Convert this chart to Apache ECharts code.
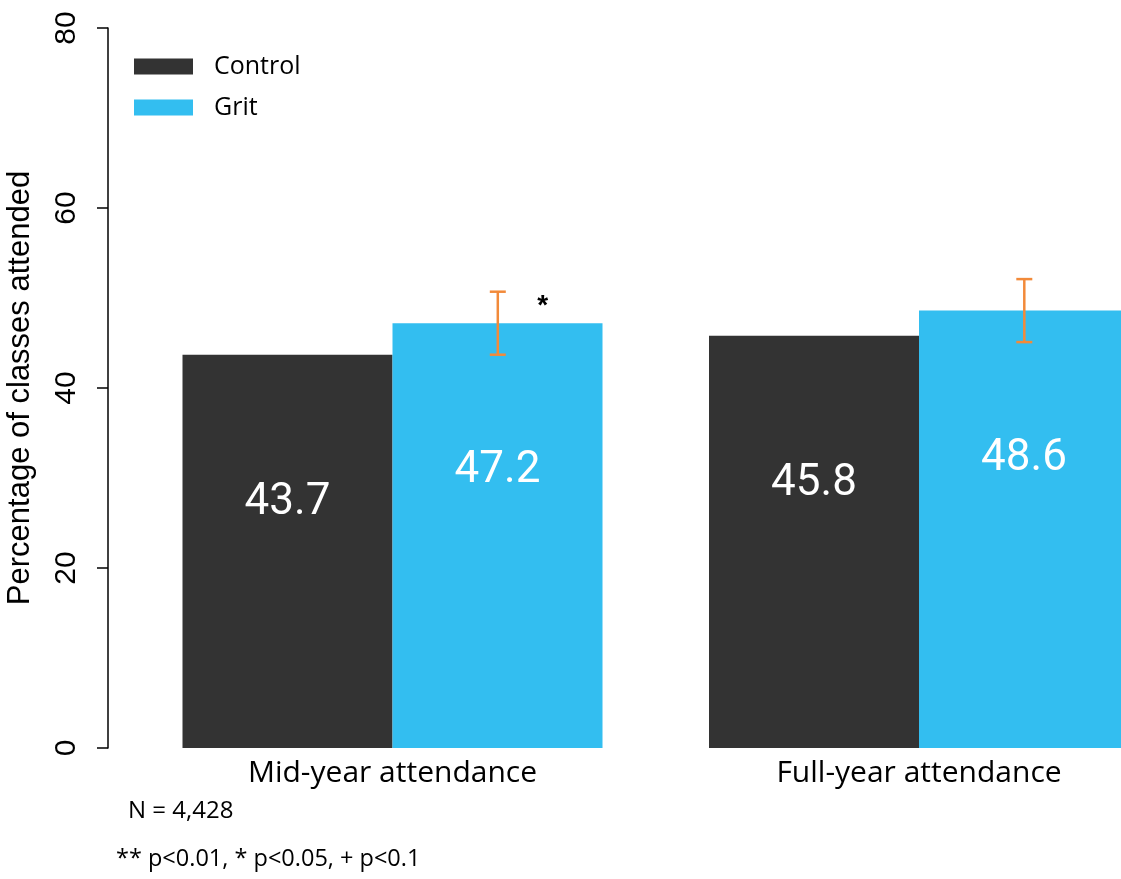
<!DOCTYPE html>
<html>
<head>
<meta charset="utf-8">
<script src="https://cdn.jsdelivr.net/npm/echarts@6/dist/echarts.min.js"></script>
<style>
  html, body { margin: 0; padding: 0; background: #ffffff; }
  #chart { width: 1121px; height: 879px; }
</style>
</head>
<body>
<div id="chart"></div>
<script>
// Attendance outcomes by condition
const categories = ['Mid-year attendance', 'Full-year attendance'];
const controlValues = [43.7, 45.8];
const gritValues = [47.2, 48.6];
// 95% interval bounds for the Grit condition
const gritLower = [43.7, 45.1];
const gritUpper = [50.7, 52.1];
const gritSignificance = ['*', ''];
const yTicks = [0, 20, 40, 60, 80];

const CONTROL_COLOR = '#333333';
const GRIT_COLOR = '#33BEF0';
const ERR_COLOR = '#F28A3A';
const SANS = '"Open Sans", Roboto, sans-serif';
const LABEL_SANS = 'Roboto, "Noto Sans", sans-serif';
const HELV = '"Liberation Sans", Arial, sans-serif';

const chart = echarts.init(document.getElementById('chart'), null, { renderer: 'canvas' });

const errorData = categories.map((c, i) => [i, gritLower[i], gritUpper[i], gritSignificance[i]]);

chart.setOption({
  animation: false,
  backgroundColor: '#ffffff',
  legend: {
    orient: 'vertical',
    left: 129,
    top: 49,
    itemWidth: 59,
    itemHeight: 16,
    itemGap: 16,
    icon: 'rect',
    data: ['Control', 'Grit'],
    textStyle: { fontFamily: SANS, fontSize: 25, color: '#000', lineHeight: 24, padding: [0, 0, 0, 16] }
  },
  // the second group runs past the right edge and is cut off there
  grid: { left: 129.25, width: 1053, top: 28, bottom: 131, containLabel: false, outerBoundsMode: 'none' },
  xAxis: {
    type: 'category',
    data: categories,
    axisLine: { show: false },
    axisTick: { show: false },
    axisLabel: { fontFamily: SANS, fontSize: 30, color: '#000', margin: 10 }
  },
  yAxis: {
    type: 'value',
    min: yTicks[0],
    max: yTicks[yTicks.length - 1],
    interval: 20,
    offset: 21.25,
    name: 'Percentage of classes attended',
    nameLocation: 'middle',
    nameGap: 72,
    nameTextStyle: { fontFamily: HELV, fontSize: 31, color: '#000' },
    axisLine: { show: true, lineStyle: { color: '#000', width: 1.5 } },
    axisTick: { show: true, length: 11, lineStyle: { color: '#000', width: 1.5 } },
    splitLine: { show: false },
    axisLabel: { rotate: 90, fontFamily: HELV, fontSize: 30, color: '#000', margin: 26 }
  },
  series: [
    {
      name: 'Control',
      type: 'bar',
      data: controlValues,
      barWidth: 210,
      barGap: '0%',
      itemStyle: { color: CONTROL_COLOR },
      label: {
        show: true, position: 'insideTop', distance: 126,
        fontFamily: LABEL_SANS, fontSize: 44, color: '#fff',
        formatter: p => p.value.toFixed(1)
      }
    },
    {
      name: 'Grit',
      type: 'bar',
      data: gritValues,
      barWidth: 210,
      barGap: '0%',
      itemStyle: { color: GRIT_COLOR },
      label: {
        show: true, position: 'insideTop', distance: 126,
        fontFamily: LABEL_SANS, fontSize: 44, color: '#fff',
        formatter: p => p.value.toFixed(1)
      }
    },
    {
      name: 'Grit interval',
      type: 'custom',
      z: 10,
      data: errorData,
      renderItem: function (params, api) {
        const idx = api.value(0);
        const lo = api.coord([idx, api.value(1)]);
        const hi = api.coord([idx, api.value(2)]);
        const size = api.size([1, 0]);
        const x = lo[0] + size[0] * 0.2;
        const half = 8;
        const style = { stroke: ERR_COLOR, lineWidth: 2.5 };
        const children = [
          { type: 'line', shape: { x1: x, y1: hi[1], x2: x, y2: lo[1] }, style },
          { type: 'line', shape: { x1: x - half, y1: hi[1], x2: x + half, y2: hi[1] }, style },
          { type: 'line', shape: { x1: x - half, y1: lo[1], x2: x + half, y2: lo[1] }, style }
        ];
        const sig = gritSignificance[params.dataIndex];
        if (sig) {
          children.push({
            type: 'text',
            style: {
              x: x + 45, y: hi[1] + 15, text: sig,
              font: 'bold 28px ' + HELV, fill: '#000',
              align: 'center', verticalAlign: 'middle'
            }
          });
        }
        return { type: 'group', children };
      }
    }
  ],
  graphic: [
    {
      type: 'text', left: 128, top: 799,
      style: { text: 'N = 4,428', font: '24px ' + SANS, fill: '#000' }
    },
    {
      type: 'text', left: 116, top: 847,
      style: { text: '** p<0.01, * p<0.05, + p<0.1', font: '23.5px ' + SANS, fill: '#000' }
    }
  ]
});
</script>
</body>
</html>
